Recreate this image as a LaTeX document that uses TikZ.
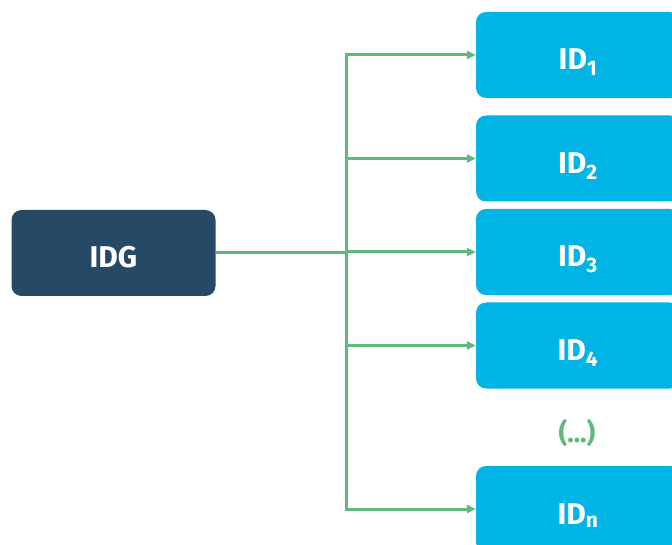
\documentclass[tikz,border=0pt]{standalone}
\usepackage{fontspec}
\setmainfont{Fira Sans}[UprightFont=* SemiBold, BoldFont=* Bold]
\usetikzlibrary{arrows.meta}
\definecolor{navy}{HTML}{264965}
\definecolor{sky}{HTML}{00B4E5}
\definecolor{leaf}{HTML}{5DBA7D}
\tikzset{
  box/.style={rounded corners=10pt, minimum width=204pt, minimum height=86pt, inner sep=0pt,
    text height=30pt, text depth=0pt,
    text=white, font=\fontsize{30}{32}\selectfont\bfseries},
  darkbox/.style={box, fill=navy},
  lightbox/.style={box, fill=sky},
  link/.style={draw=leaf, line width=3pt},
  arrowlink/.style={link, -{Triangle[length=9pt,width=8pt]}},
}
\begin{document}
\begin{tikzpicture}[x=1pt,y=-1pt]
\useasboundingbox (0,0) rectangle (672,545);
\clip (0,0) rectangle (672,545);
\node[darkbox] (idg) at (113.5,253) {IDG};
\node[lightbox] (id1) at (578,55) {ID\textsubscript{1}};
\node[lightbox] (id2) at (578,158.5) {ID\textsubscript{2}};
\node[lightbox] (id3) at (578,252) {ID\textsubscript{3}};
\node[lightbox] (id4) at (578,345.5) {ID\textsubscript{4}};
\node[lightbox] (idn) at (578,509) {ID\textsubscript{n}};
\node[text=leaf, font=\fontsize{27}{29}\selectfont\bfseries] (dots) at (577,433) {(...)};
\coordinate (j) at (346,253);
\draw[link] (idg.east) -- (j);
\foreach \t in {id1,id2,id3,id4,idn}
  \draw[arrowlink] (j) |- (\t.west);
\end{tikzpicture}
\end{document}
